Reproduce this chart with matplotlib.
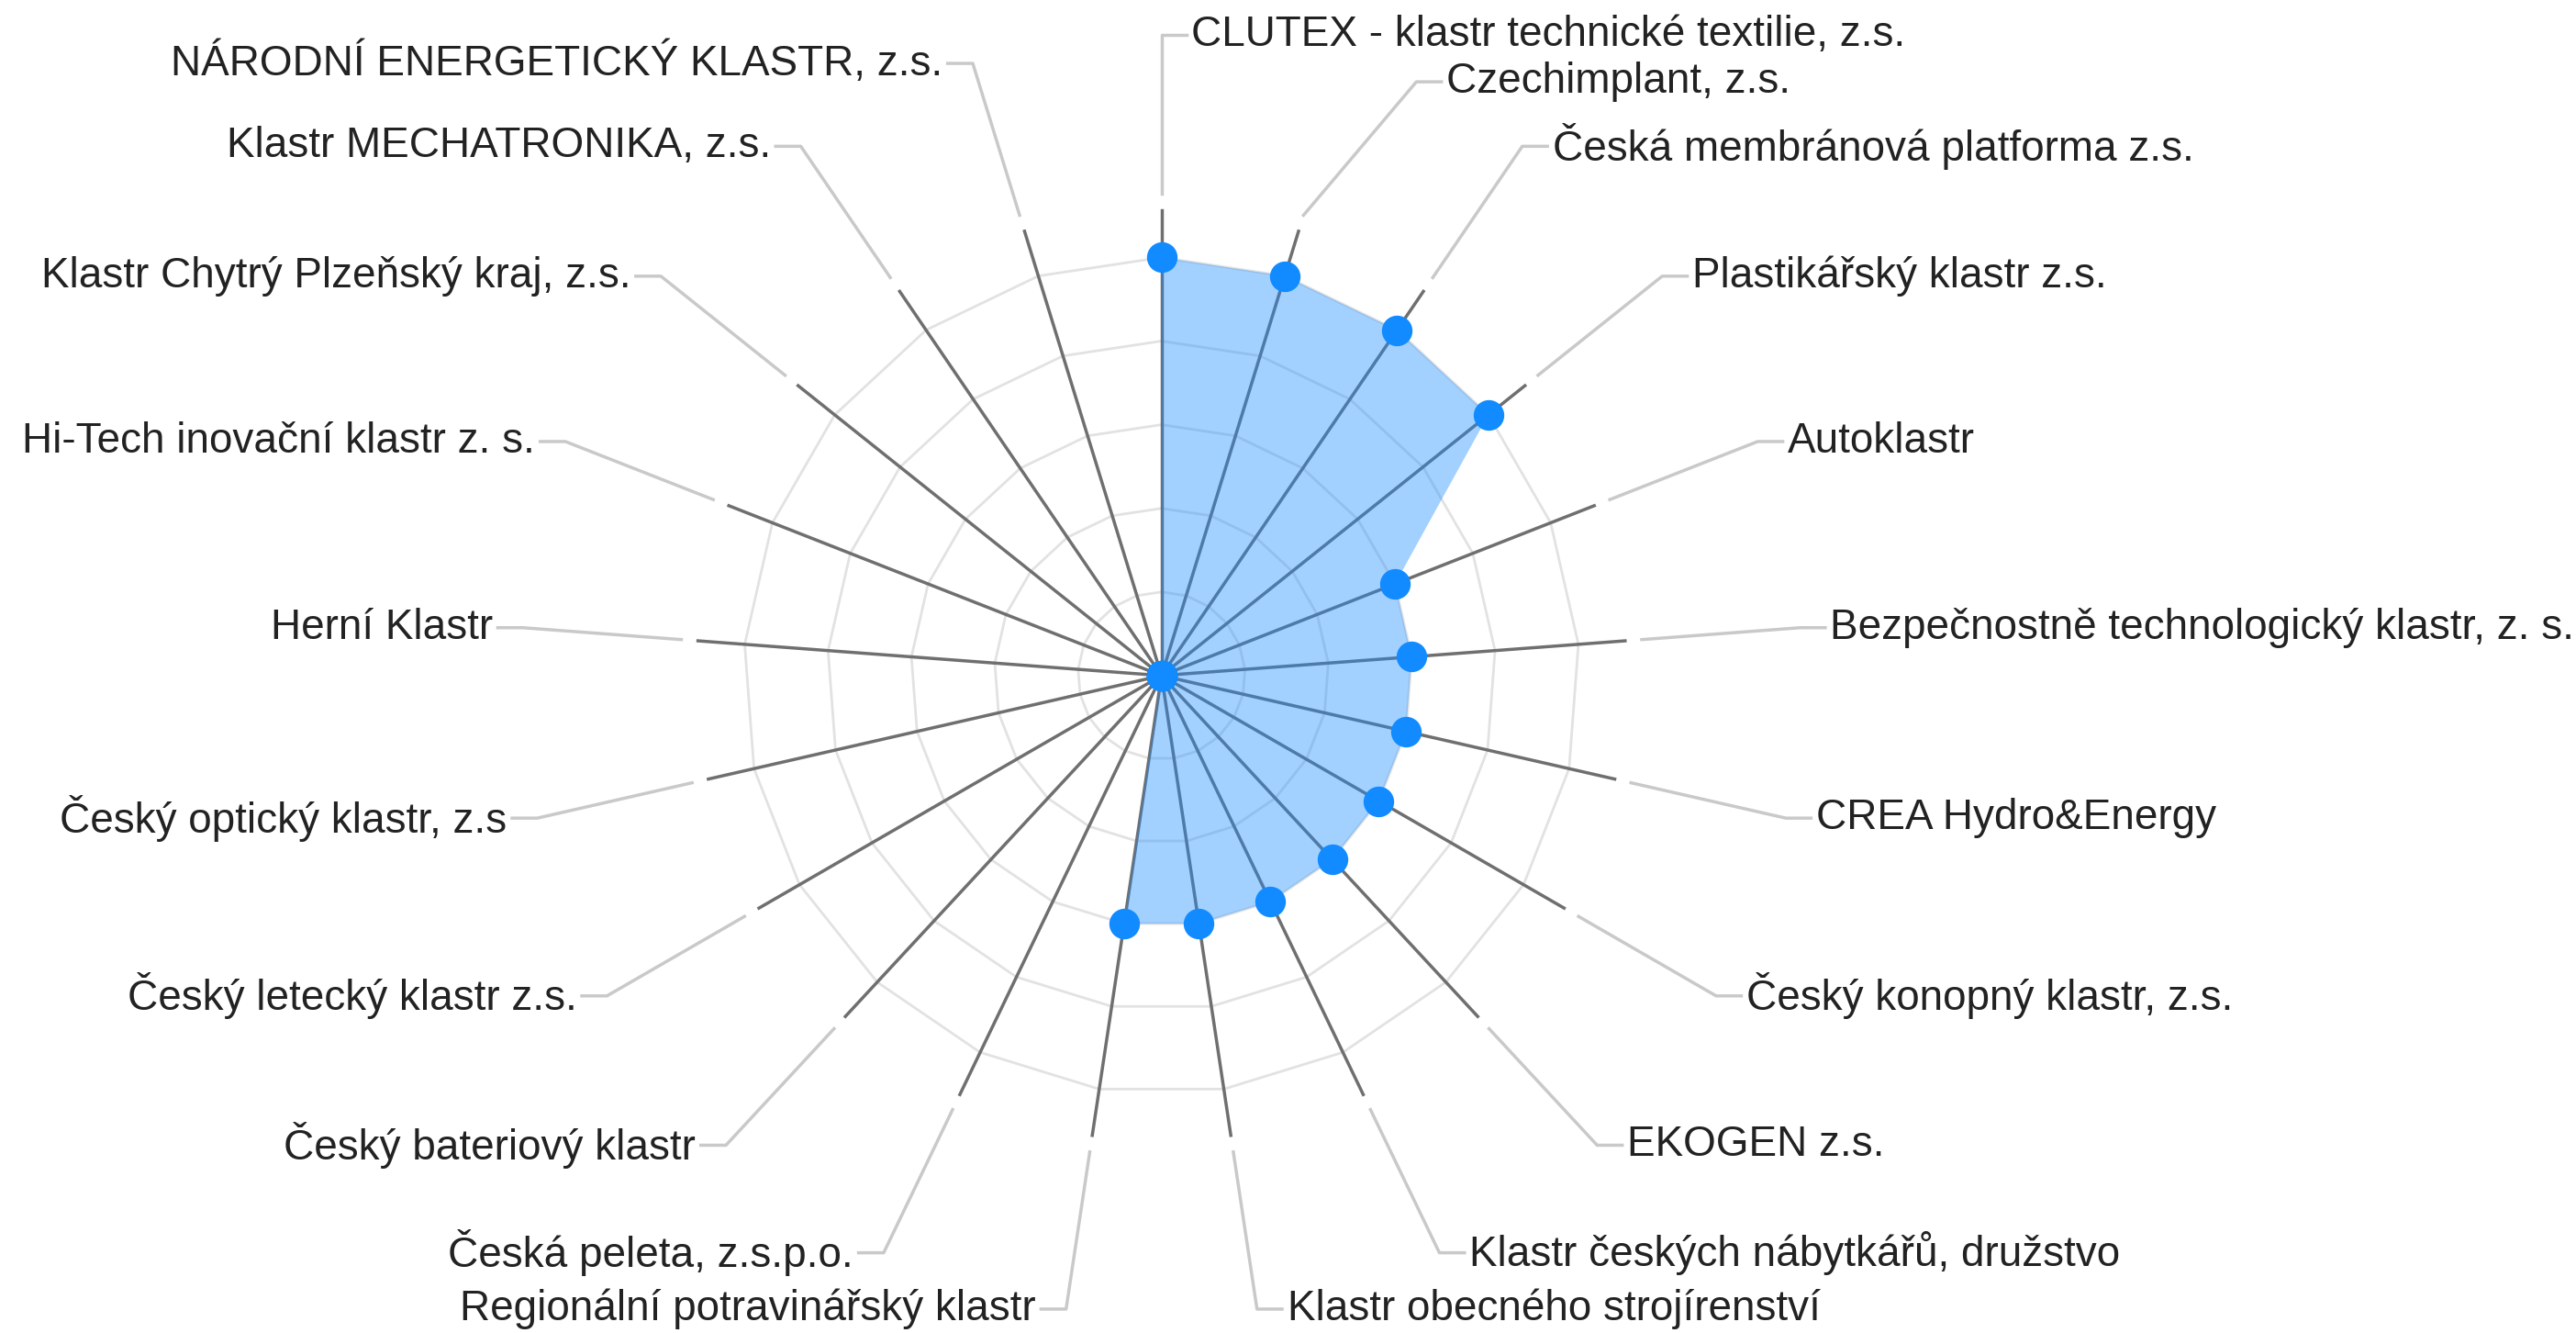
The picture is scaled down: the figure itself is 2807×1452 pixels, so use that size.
import numpy as np
import matplotlib
matplotlib.use("Agg")
import matplotlib.pyplot as plt

plt.rcParams['font.family'] = ['Liberation Sans', 'DejaVu Sans']

categories = [
    "CLUTEX - klastr technické textilie, z.s.",
    "Czechimplant, z.s.",
    "Česká membránová platforma z.s.",
    "Plastikářský klastr z.s.",
    "Autoklastr",
    "Bezpečnostně technologický klastr, z. s.",
    "CREA Hydro&Energy",
    "Český konopný klastr, z.s.",
    "EKOGEN z.s.",
    "Klastr českých nábytkářů, družstvo",
    "Klastr obecného strojírenství",
    "Regionální potravinářský klastr",
    "Česká peleta, z.s.p.o.",
    "Český bateriový klastr",
    "Český letecký klastr z.s.",
    "Český optický klastr, z.s",
    "Herní Klastr",
    "Hi-Tech inovační klastr z. s.",
    "Klastr Chytrý Plzeňský kraj, z.s.",
    "Klastr MECHATRONIKA, z.s.",
    "NÁRODNÍ ENERGETICKÝ KLASTR, z.s.",
]
values = [5, 5, 5, 5, 3, 3, 3, 3, 3, 3, 3, 3, 0, 0, 0, 0, 0, 0, 0, 0, 0]
levels = [1, 2, 3, 4, 5]

# label nudges (data units) where the chart moved a label to avoid overlap
label_shift = {1: (0.79, -0.22)}

W, H = 2807, 1452
unit = 91.1
cx, cy = 1265.7, 735.9

fig = plt.figure(figsize=(W / 100, H / 100), dpi=100)
ax = fig.add_axes([0, 0, 1, 1])
ax.set_xlim(-cx / unit, (W - cx) / unit)
ax.set_ylim(-(H - cy) / unit, cy / unit)
ax.axis('off')

n = len(categories)
ang = 2 * np.pi * np.arange(n) / n
sx, sy = np.sin(ang), np.cos(ang)

# polygon grid
for lv in levels:
    ax.plot(np.append(lv * sx, lv * sx[0]), np.append(lv * sy, lv * sy[0]),
            color='#e2e2e2', lw=2, zorder=1)

spoke_end = 5.56
lead_start = 5.76
lead_r = 7.66
for i in range(n):
    ax.plot([0, spoke_end * sx[i]], [0, spoke_end * sy[i]],
            color='#6f6f6f', lw=2.5, zorder=2)
    dx, dy = label_shift.get(i, (0, 0))
    ex, ey = lead_r * sx[i] + dx, lead_r * sy[i] + dy
    right = ang[i] < np.pi - 1e-9 or i == 0
    sgn = 1 if right else -1
    ax.plot([lead_start * sx[i], ex, ex + sgn * 0.3],
            [lead_start * sy[i], ey, ey],
            color='#c9c9c9', lw=2.5, zorder=1)
    ax.text(ex + sgn * 0.36, ey, categories[i], fontsize=33, color='#222222',
            ha='left' if right else 'right', va='center', zorder=5)

vals = np.array(values, dtype=float)
ax.fill(vals * sx, vals * sy, color='#1a8cff', alpha=0.4, lw=0, zorder=3)
ax.plot(vals * sx, vals * sy, 'o', ms=23, color='#118bff', ls='none', zorder=4)

fig.savefig("out.png", dpi=100)
